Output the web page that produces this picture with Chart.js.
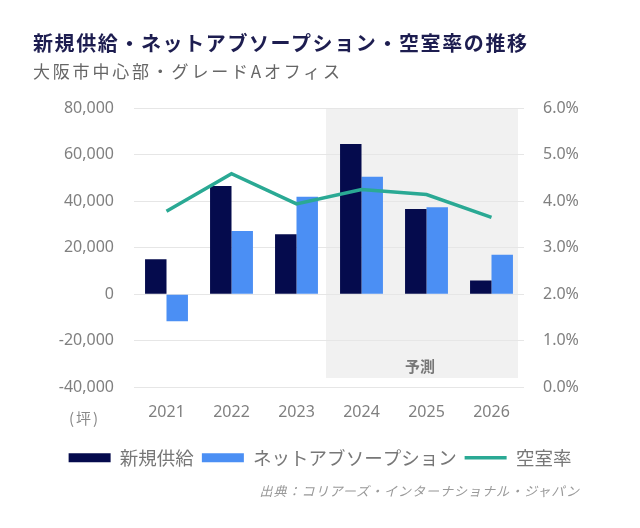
<!DOCTYPE html>
<html lang="ja">
<head>
<meta charset="utf-8">
<script src="https://cdn.jsdelivr.net/npm/chart.js@4.4.1/dist/chart.umd.min.js"></script>
<style>
  html, body { margin: 0; padding: 0; background: #fff; }
  body { width: 640px; height: 528px; position: relative; overflow: hidden;
         font-family: "Noto Sans CJK JP", "Noto Sans", sans-serif; }
  #title { position: absolute; left: 33px; top: 30px; font-size: 20px; font-weight: bold;
           color: #1d1d50; letter-spacing: 1.6px; line-height: 26px; white-space: nowrap; }
  #subtitle { position: absolute; left: 33px; top: 59px; font-size: 17px; color: #666;
              letter-spacing: 2.8px; line-height: 24px; white-space: nowrap; }
  #unit { position: absolute; left: 69px; top: 407px; font-size: 15px; color: #888;
          letter-spacing: 2px; }
  #source { position: absolute; right: 60px; top: 481px; font-size: 13px; color: #999;
            font-style: italic; letter-spacing: 1px; white-space: nowrap; }
  #wrap { position: absolute; left: 0; top: 0; width: 640px; height: 528px; }
</style>
</head>
<body>
<div id="wrap"><canvas id="chart1" width="640" height="528"></canvas></div>
<div id="title">新規供給・ネットアブソープション・空室率の推移</div>
<div id="subtitle">大阪市中心部・グレードAオフィス</div>
<div id="unit">(坪)</div>
<div id="source">出典：コリアーズ・インターナショナル・ジャパン</div>
<script>
// data
var years = ['2021', '2022', '2023', '2024', '2025', '2026'];
var supply = [15000, 46500, 25800, 64500, 36600, 5900];
var absorption = [-11600, 27100, 41900, 50500, 37400, 17000];
var vacancy = [3.78, 4.59, 3.94, 4.25, 4.14, 3.65];
var forecastFrom = '2024';
var forecastLabel = '予測';

var tickColor = '#808080';
var tickFont = { family: '"Noto Sans", "Noto Sans CJK JP", sans-serif', size: 16 };

// grey band behind the forecast years
var forecastBand = {
  id: 'forecastBand',
  beforeDraw: function(chart) {
    var ctx = chart.ctx;
    var x = chart.scales.x;
    var y = chart.scales.y;
    var idx = years.indexOf(forecastFrom);
    var half = (x.getPixelForValue(1) - x.getPixelForValue(0)) / 2;
    var left = x.getPixelForValue(idx) - half - 3;
    var right = x.getPixelForValue(years.length - 1) + half - 6;
    var bottom = y.getPixelForValue(-36000);
    ctx.save();
    ctx.fillStyle = '#f1f1f1';
    ctx.fillRect(left, chart.chartArea.top, right - left, bottom - chart.chartArea.top);
    ctx.fillStyle = '#777';
    ctx.font = 'bold 15px "Noto Sans CJK JP", sans-serif';
    ctx.textAlign = 'center';
    ctx.textBaseline = 'middle';
    ctx.fillText(forecastLabel, (left + right) / 2 - 2, bottom - 12);
    ctx.restore();
  }
};

var config = {
  type: 'bar',
  data: {
    labels: years,
    datasets: [
      {
        type: 'line',
        label: '空室率',
        data: vacancy,
        yAxisID: 'y2',
        borderColor: '#2aa994',
        backgroundColor: '#2aa994',
        borderWidth: 3.5,
        pointRadius: 0,
        pointStyle: 'line',
        tension: 0,
        order: 0
      },
      {
        label: '新規供給',
        data: supply,
        backgroundColor: '#050b4d',
        pointStyle: 'rect',
        order: 1
      },
      {
        label: 'ネットアブソープション',
        data: absorption,
        backgroundColor: '#4b8ff4',
        pointStyle: 'rect',
        order: 1
      }
    ]
  },
  options: {
    responsive: false,
    animation: false,
    devicePixelRatio: 1,
    layout: { padding: { top: 108, left: 0, right: 0, bottom: 51 } },
    datasets: { bar: { barPercentage: 1, categoryPercentage: 0.66 } },
    plugins: {
      tooltip: { enabled: false },
      legend: {
        position: 'bottom',
        labels: {
          usePointStyle: true,
          pointStyleWidth: 42,
          boxWidth: 42,
          boxHeight: 9,
          padding: 8,
          color: '#777',
          font: { family: '"Noto Sans CJK JP", sans-serif', size: 18.5 },
          sort: function(a, b) { return (a.datasetIndex || 3) - (b.datasetIndex || 3); }
        }
      }
    },
    scales: {
      x: {
        grid: { display: false },
        border: { display: false },
        ticks: { color: tickColor, font: tickFont, padding: 8 },
        afterFit: function(scale) { scale.height += 10; }
      },
      y: {
        position: 'left',
        min: -40000,
        max: 80000,
        ticks: {
          stepSize: 20000,
          color: tickColor,
          font: tickFont,
          padding: 20,
          callback: function(v) { return v.toLocaleString('en-US'); }
        },
        grid: { color: '#e6e6e6', drawTicks: false },
        border: { display: false },
        afterFit: function(scale) { scale.width = 134; }
      },
      y2: {
        position: 'right',
        min: 0,
        max: 6,
        ticks: {
          stepSize: 1,
          color: tickColor,
          font: tickFont,
          padding: 19,
          callback: function(v) { return v.toFixed(1) + '%'; }
        },
        grid: { display: false, drawTicks: false },
        border: { display: false },
        afterFit: function(scale) { scale.width = 116; }
      }
    }
  },
  plugins: [forecastBand]
};

var chart = new Chart(document.getElementById('chart1'), config);
</script>
</body>
</html>
